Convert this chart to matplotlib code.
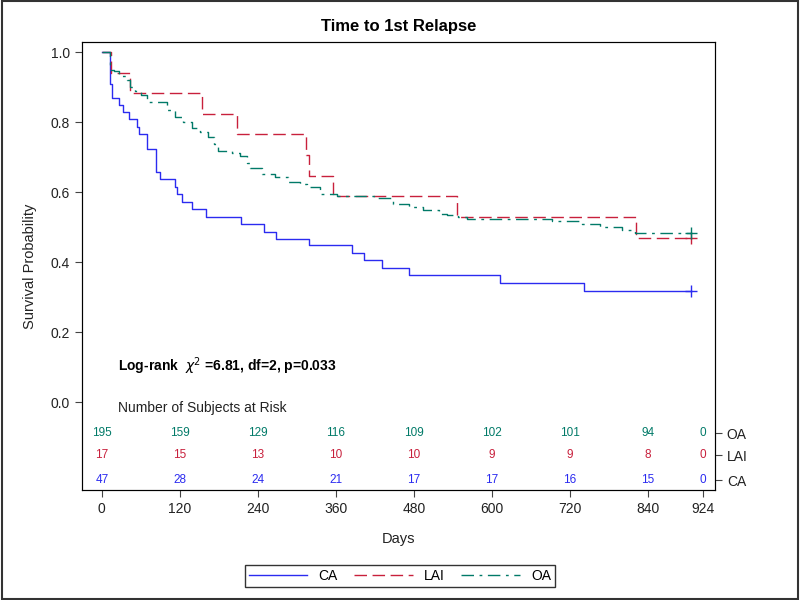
import matplotlib
matplotlib.use("Agg")
import matplotlib.pyplot as plt
from matplotlib.patches import Rectangle

plt.rcParams["font.family"] = ["Liberation Sans", "DejaVu Sans"]

# ── Kaplan-Meier step data (day of event, survival after event) ──────────────
ca_days = [0, 13, 15, 27, 33, 42, 54, 57, 69, 83, 90, 113, 116, 124, 138, 160,
           214, 250, 268, 319, 384, 403, 431, 473, 612, 742, 906]
ca_surv = [1.0, 0.91, 0.869, 0.849, 0.829, 0.808, 0.785, 0.765, 0.722, 0.658, 0.637,
           0.615, 0.594, 0.572, 0.551, 0.530, 0.510, 0.487, 0.466, 0.448, 0.427,
           0.406, 0.383, 0.362, 0.340, 0.319, 0.319]

lai_days = [0, 14, 44, 154, 208, 314, 319, 355, 546, 821, 906]
lai_surv = [1.0, 0.941, 0.882, 0.824, 0.765, 0.706, 0.647, 0.588, 0.529, 0.470, 0.470]

oa_days = [0, 13, 18, 27, 38, 44, 51, 61, 69, 100, 113, 125, 138, 151, 164, 172,
           179, 200, 213, 223, 228, 246, 266, 287, 305, 315, 336, 361, 418, 448,
           473, 494, 519, 531, 548, 561, 692, 738, 766, 800, 820, 906]
oa_surv = [1.0, 0.949, 0.945, 0.931, 0.92, 0.90, 0.89, 0.877, 0.858, 0.836, 0.815,
           0.80, 0.782, 0.772, 0.758, 0.737, 0.717, 0.712, 0.703, 0.682, 0.668,
           0.651, 0.644, 0.629, 0.623, 0.615, 0.594, 0.590, 0.582, 0.566, 0.558,
           0.549, 0.539, 0.534, 0.528, 0.524, 0.517, 0.510, 0.501, 0.491, 0.482, 0.482]

# ── Number at risk table ─────────────────────────────────────────────────────
risk_times = [0, 120, 240, 360, 480, 600, 720, 840, 924]
risk_oa = [195, 159, 129, 116, 109, 102, 101, 94, 0]
risk_lai = [17, 15, 13, 10, 10, 9, 9, 8, 0]
risk_ca = [47, 28, 24, 21, 17, 17, 16, 15, 0]

C_CA = "#2b2bf0"
C_LAI = "#c8203c"
C_OA = "#017a68"

fig = plt.figure(figsize=(8, 6), dpi=100)
ax = fig.add_axes([0.1025, 0.1833, 0.7913, 0.7467])

ax.step(ca_days, ca_surv, where="post", color=C_CA, lw=1.0, label="CA")
ax.step(lai_days, lai_surv, where="post", color=C_LAI, lw=1.0,
        linestyle=(0, (9, 4)), label="LAI")
ax.step(oa_days, oa_surv, where="post", color=C_OA, lw=1.0,
        linestyle=(0, (9, 4, 2, 4)), label="OA")

# censored at end of follow-up
ax.plot(ca_days[-1], ca_surv[-1], marker="+", ms=8, color=C_CA, mew=1)
ax.plot(lai_days[-1], lai_surv[-1], marker="+", ms=8, color=C_LAI, mew=1)
ax.plot(oa_days[-1], oa_surv[-1], marker="+", ms=8, color=C_OA, mew=1)

ax.set_xlim(-30.5, 943)
ax.set_ylim(-0.251, 1.029)
ax.set_yticks([0.0, 0.2, 0.4, 0.6, 0.8, 1.0])
ax.set_yticklabels(["0.0", "0.2", "0.4", "0.6", "0.8", "1.0"])
ax.set_xticks(risk_times)
ax.tick_params(labelsize=10, length=5, color="#444444", labelcolor="#222222")
ax.set_ylabel("Survival Probability", fontsize=10.5, color="#222222", labelpad=10)
ax.set_xlabel("Days", fontsize=10.5, color="#222222", labelpad=12)
ax.set_title("Time to 1st Relapse", fontsize=12, fontweight="bold", pad=8)
for s in ax.spines.values():
    s.set_color("#333333")

ax.text(25, 0.104, r"Log-rank  $\chi^2$ =6.81, df=2, p=0.033",
        fontsize=10, fontweight="bold", va="center")
ax.text(25, -0.017, "Number of Subjects at Risk", fontsize=10, va="center",
        color="#222222")

row_y = [-0.0886, -0.151, -0.223]
for y, counts, col in zip(row_y, [risk_oa, risk_lai, risk_ca], [C_OA, C_LAI, C_CA]):
    for t, n in zip(risk_times, counts):
        ax.text(t, y, str(n), color=col, fontsize=8.5, ha="center", va="center")

ax2 = ax.twinx()
ax2.set_ylim(ax.get_ylim())
ax2.set_yticks(row_y)
ax2.set_yticklabels(["OA", "LAI", "CA"])
ax2.tick_params(labelsize=10, length=5, color="#444444", labelcolor="#222222")

fig.legend(loc="center", bbox_to_anchor=(0.5, 0.04), ncol=3, fontsize=10,
           frameon=True, fancybox=False, edgecolor="black", handlelength=4.2,
           columnspacing=1.2, borderpad=0.3, handletextpad=0.8)

fig.add_artist(Rectangle((0.002, 0.002), 0.996, 0.996, transform=fig.transFigure,
                         fill=False, edgecolor="#333333", lw=1.5))

fig.savefig("out.png", dpi=100)
